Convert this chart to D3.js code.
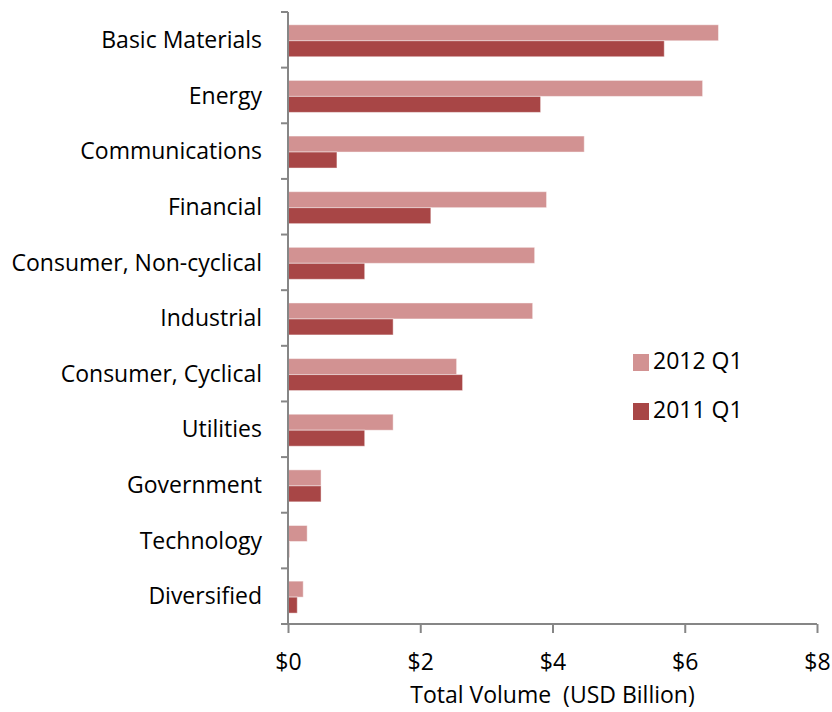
<!DOCTYPE html>
<html><head><meta charset="utf-8">
<script src="https://cdn.jsdelivr.net/npm/d3@7"></script>
<style>body{margin:0;background:#fff;} text{font-family:"Open Sans",sans-serif;fill:#000;}</style>
</head><body><svg id="c" width="832" height="712"></svg>
<script>
const categories = ["Basic Materials","Energy","Communications","Financial","Consumer, Non-cyclical","Industrial","Consumer, Cyclical","Utilities","Government","Technology","Diversified"];
const values2012 = [6.51,6.27,4.48,3.91,3.73,3.70,2.55,1.59,0.50,0.29,0.23];
const values2011 = [5.69,3.82,0.74,2.16,1.16,1.59,2.64,1.16,0.50,0.02,0.14];
const seriesNames = ["2012 Q1","2011 Q1"];
const xTicks = [0,2,4,6,8];
const colors = ["#d29292","#a84646"];

(function(){
const svg = d3.select("#c");
const FS = 23;
const pL = 288, pR = 817, pT = 12, pB = 624;
const x = d3.scaleLinear().domain([0,8]).range([pL,pR]);
const y = d3.scaleBand().domain(categories).range([pT,pB]).paddingInner(0).paddingOuter(0);
const inner = d3.scaleBand().domain(seriesNames).range([0,y.bandwidth()]).paddingInner(0).paddingOuter(0.74).align(0.54);
const data = [values2012, values2011];

seriesNames.forEach((s,si)=>{
  svg.append("g").selectAll("rect").data(categories).join("rect")
    .attr("x", x(0))
    .attr("y", d=>y(d)+inner(s))
    .attr("width", (d,i)=>Math.max(0,x(data[si][i])-x(0)))
    .attr("height", inner.bandwidth())
    .attr("fill", colors[si])
    .attr("stroke", "rgba(255,255,255,0.45)")
    .attr("stroke-width", 1);
});

// y axis
const yTickPos = d3.range(categories.length+1).map(i=>pT + i*y.step());
svg.append("line").attr("x1",pL).attr("x2",pL).attr("y1",pT).attr("y2",pB).attr("stroke","#868686").attr("stroke-width",2);
svg.append("g").selectAll("line").data(yTickPos).join("line")
  .attr("x1",pL-7).attr("x2",pL).attr("y1",d=>d).attr("y2",d=>d)
  .attr("stroke","#868686").attr("stroke-width",2);
svg.append("g").selectAll("text").data(categories).join("text")
  .attr("x", 262).attr("y", d=>y(d)+y.bandwidth()/2+2)
  .attr("text-anchor","end").attr("dominant-baseline","middle")
  .attr("font-size",FS).text(d=>d);

// x axis
const xAxis = d3.axisBottom(x).tickValues(xTicks).tickFormat(d=>"$"+d).tickSize(9).tickPadding(21);
const gx = svg.append("g").attr("transform",`translate(0,${pB})`).call(xAxis);
gx.select(".domain").attr("stroke","#868686").attr("stroke-width",2).attr("d",`M${pL-7},0H${pR}`);
gx.selectAll(".tick line").attr("stroke","#868686").attr("stroke-width",2);
gx.selectAll(".tick text").attr("font-size",FS).attr("font-family","'Open Sans',sans-serif").attr("fill","#000");

svg.append("text").attr("x",(pL+pR)/2).attr("y",703).attr("text-anchor","middle").attr("font-size",FS)
  .style("white-space","pre").text("Total Volume  (USD Billion)");

// legend
seriesNames.forEach((s,i)=>{
  const ly = 354 + i*49;
  svg.append("rect").attr("x",633).attr("y",ly).attr("width",16).attr("height",17).attr("fill",colors[i]);
  svg.append("text").attr("x",653).attr("y",ly+9).attr("dominant-baseline","middle").attr("font-size",FS).text(s);
});
})();
</script></body></html>
